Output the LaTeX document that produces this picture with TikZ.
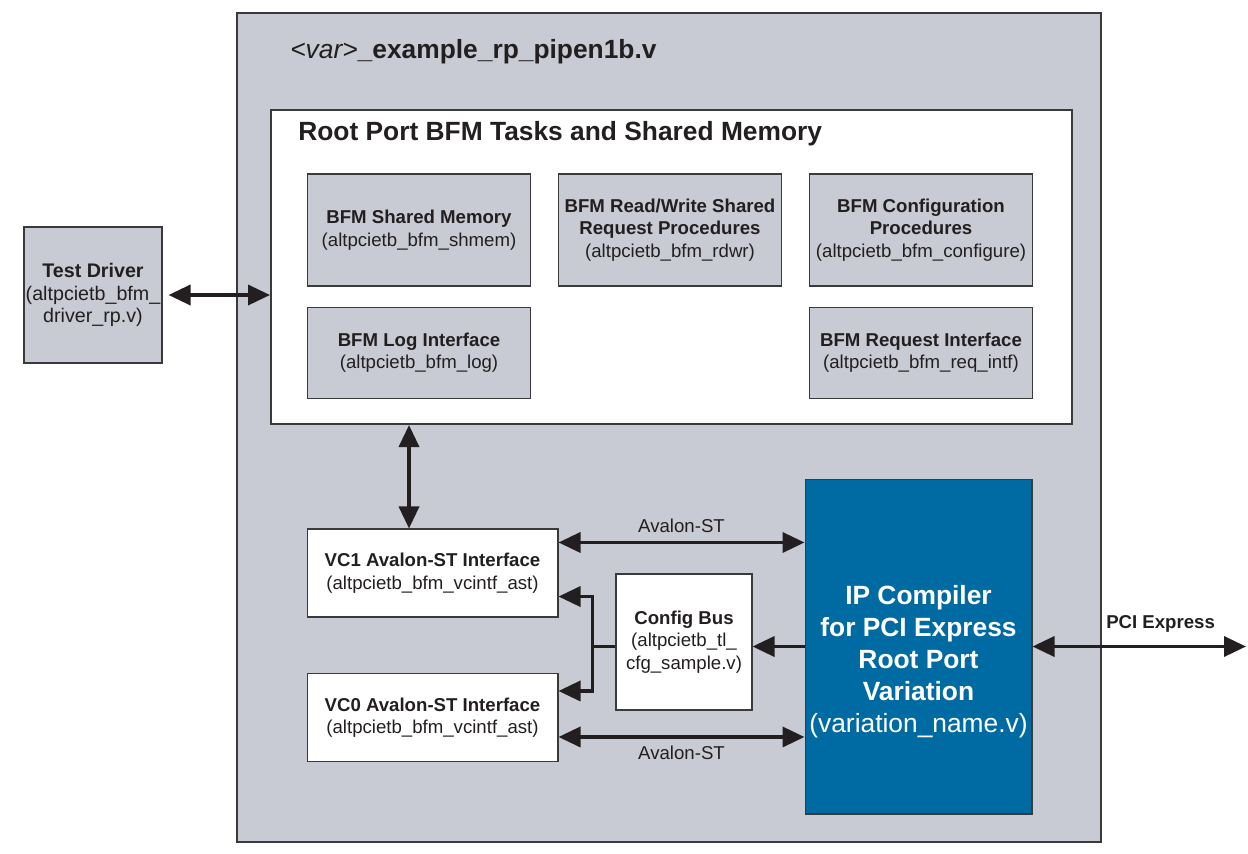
\documentclass[tikz,border=0pt]{standalone}
\usepackage{fontspec}
\setmainfont{Liberation Sans}
\usepackage{tikz}
\usetikzlibrary{arrows.meta,positioning,calc}
\definecolor{panelgrey}{HTML}{C8CBD3}
\definecolor{edgegrey}{HTML}{3A3A3A}
\definecolor{ipblue}{HTML}{006BA2}
\definecolor{inkdark}{HTML}{231F20}

\begin{document}
\begin{tikzpicture}[x=0.02cm, y=-0.02cm, node distance=0.54cm,
  font=\fontsize{10.6}{12.8}\selectfont, text=inkdark,
  >={Triangle[length=0.44cm,width=0.4cm]},
  task/.style={rectangle, draw=edgegrey, line width=0.6pt, fill=panelgrey, align=center, inner sep=0pt, minimum width=4.46cm},
  iface/.style={rectangle, draw=edgegrey, line width=0.6pt, fill=white, align=center, inner sep=0pt},
  link/.style={<->, draw=inkdark, line width=2pt},
  bus/.style={->, draw=inkdark, line width=2pt}]
\useasboundingbox (0,0) rectangle (1248,853);

% testbench frame
\node[rectangle, draw=edgegrey, line width=0.9pt, fill=panelgrey, minimum width=17.28cm, minimum height=16.58cm] (tb) at (669,427.5) {};
\node[anchor=base west, inner sep=0pt, font=\fontsize{15}{18}\selectfont] (tbname) at (290,58) {\textit{<var>}\textbf{\_example\_rp\_pipen1b.v}};

% root port BFM
\node[iface, line width=1.2pt, minimum width=16.02cm, minimum height=6.28cm] (rp) at (671.5,267) {};
\node[anchor=base west, inner sep=0pt, font=\bfseries\fontsize{15}{18}\selectfont] (rptitle) at (298,140) {Root Port BFM Tasks and Shared Memory};

\node[task, minimum height=2.24cm] (shmem) at (419,230) {\textbf{BFM Shared Memory}\\(altpcietb\_bfm\_shmem)};
\node[task, minimum height=2.24cm, right=of shmem] (rdwr) {\textbf{BFM Read/Write Shared}\\\textbf{Request Procedures}\\(altpcietb\_bfm\_rdwr)};
\node[task, minimum height=2.24cm, right=of rdwr] (cfgproc) {\textbf{BFM Configuration}\\\textbf{Procedures}\\(altpcietb\_bfm\_configure)};
\node[task, minimum height=1.82cm, below=0.4cm of shmem] (log) {\textbf{BFM Log Interface}\\(altpcietb\_bfm\_log)};
\node[task, minimum height=1.82cm, below=0.4cm of cfgproc] (reqif) {\textbf{BFM Request Interface}\\(altpcietb\_bfm\_req\_intf)};

% driver
\node[task, minimum width=2.76cm, minimum height=2.72cm, font=\fontsize{11.2}{12.8}\selectfont] (drv) at (93,295) {\textbf{Test Driver}\\(altpcietb\_bfm\_\\driver\_rp.v)};

% VC interfaces and config bus
\node[iface, minimum width=5.02cm, minimum height=1.76cm] (vc1) at (432.5,573) {\textbf{VC1 Avalon-ST Interface}\\(altpcietb\_bfm\_vcintf\_ast)};
\node[iface, minimum width=5.02cm, minimum height=1.76cm] (vc0) at (432.5,717.5) {\textbf{VC0 Avalon-ST Interface}\\(altpcietb\_bfm\_vcintf\_ast)};
\node[iface, minimum width=2.72cm, minimum height=2.72cm] (cfg) at (684,642) {\textbf{Config Bus}\\(altpcietb\_tl\_\\cfg\_sample.v)};

% IP core
\node[rectangle, draw=edgegrey, line width=0.6pt, fill=ipblue, minimum width=4.54cm, minimum height=6.7cm] (ip) at (918.5,646.5) {};
\node[align=center, text=white, font=\fontsize{15}{18.2}\selectfont] (iplbl) at ([yshift=-0.31cm]ip.center) {\textbf{IP Compiler}\\\textbf{for PCI Express}\\\textbf{Root Port}\\\textbf{Variation}\\(variation\_name.v)};

% connectors
\draw[link] ([xshift=0.12cm]drv.east) -- (drv.east -| rp.west);
\coordinate (vcup) at ([xshift=-0.47cm]vc1.north);
\draw[link] (vcup |- rp.south) -- (vcup);

\coordinate (av1) at ([yshift=-0.28cm]vc1.north east);
\coordinate (av0) at ([yshift=-1.28cm]vc0.north east);
\draw[link] (av1) -- (av1 -| ip.west) node[midway, above=1pt] {Avalon-ST};
\draw[link] (av0) -- (av0 -| ip.west) node[midway, below=1pt] {Avalon-ST};

\draw[bus] (ip.west) -- (ip.west -| cfg.east);
\draw[line width=2pt, draw=inkdark] (ip.west -| cfg.west) -- ++(-0.46cm,0) coordinate (split);
\coordinate (cfg1) at ([yshift=0.42cm]vc1.south east);
\coordinate (cfg0) at ([yshift=-0.36cm]vc0.north east);
\draw[bus] (split) |- (cfg1);
\draw[bus] (split) |- (cfg0);

\coordinate (pcie) at (1246,646.5);
\draw[link] (ip.east) -- (pcie) node[pos=0.6, above=4pt, font=\bfseries\fontsize{10.6}{12}\selectfont] {PCI Express};
\end{tikzpicture}
\end{document}
